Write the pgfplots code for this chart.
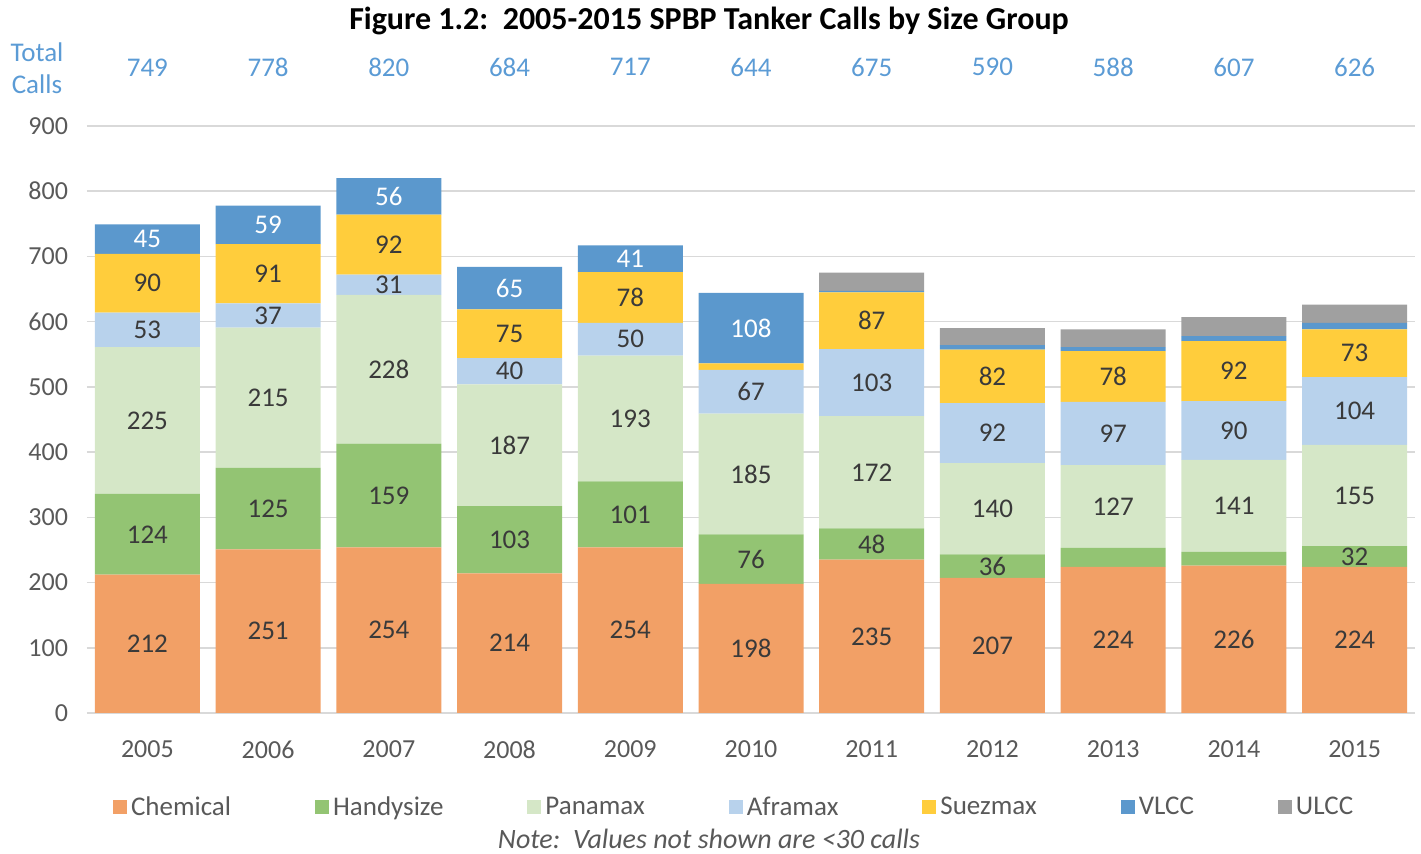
\documentclass[border=0pt]{standalone}
\usepackage{fontspec}
\setmainfont{Carlito}
\usepackage{pgfplots}
\usepackage{pgfplotstable}
\pgfplotsset{compat=1.18}

\definecolor{chem}{HTML}{F2A066}
\definecolor{handy}{HTML}{93C473}
\definecolor{pana}{HTML}{D5E7C7}
\definecolor{afra}{HTML}{B8D2EC}
\definecolor{suez}{HTML}{FFCD3C}
\definecolor{vlcc}{HTML}{5B98CD}
\definecolor{ulcc}{HTML}{A0A0A0}
\definecolor{tickgray}{HTML}{595959}
\definecolor{labgray}{HTML}{3A3A3A}
\definecolor{totblue}{HTML}{5B9BD5}

% tanker calls per size group, 2005-2015 (x = 0..10)
\pgfplotstableread{
x chem handy pana afra suez vlcc ulcc
0  212 124 225 53  90 45  0
1  251 125 215 37  91 59  0
2  254 159 228 31  92 56  0
3  214 103 187 40  75 65  0
4  254 101 193 50  78 41  0
5  198 76  185 67  10 108 0
6  235 48  172 103 87 2   28
7  207 36  140 92  82 7   26
8  224 29  127 97  78 6   27
9  226 21  141 90  92 8   29
10 224 32  155 104 73 10  28
}\calls

\pgfplotstableread{
x tot
0 749
1 778
2 820
3 684
4 717
5 644
6 675
7 590
8 588
9 607
10 626
}\totals

\begin{document}
\begin{tikzpicture}
\path[use as bounding box] (-43.5pt,-70.5pt) rectangle (667pt,356.5pt);
\begin{axis}[
  scale only axis, width=664pt, height=293.5pt,
  ybar stacked, bar width=52.5pt,
  xmin=-0.5, xmax=10.5, ymin=0, ymax=900,
  ytick={0,100,...,900},
  xtick={0,...,10},
  xticklabels={2005,2006,2007,2008,2009,2010,2011,2012,2013,2014,2015},
  axis line style={draw=none},
  major tick length=0pt,
  ymajorgrids, major grid style={draw=black!15, line width=0.8pt},
  tick label style={font=\fontsize{13}{15}\selectfont, text=tickgray},
  yticklabel style={xshift=-6pt},
  xticklabel style={yshift=-10.5pt},
  /pgf/number format/assume math mode=true,
  clip=false,
  point meta=explicit symbolic,
  nodes near coords={\ifdim\pgfplotspointmeta pt<30pt\relax\else\pgfplotspointmeta\fi},
  every node near coord/.append style={anchor=center, font=\fontsize{13.5}{15}\selectfont,
    text=labgray},
  legend columns=7,
  legend style={at={(0.488,-0.161)}, anchor=center, draw=none, fill=none,
    font=\fontsize{13.5}{15}\selectfont, text=tickgray,
    /tikz/every even column/.append style={column sep=40pt}},
  legend image code/.code={\fill[#1] (0pt,-3.5pt) rectangle (7pt,3.5pt);},
]
\addplot[fill=chem, draw=none] table[x=x, y=chem, meta=chem] {\calls};
\addlegendentry{Chemical}
\addplot[fill=handy, draw=none] table[x=x, y=handy, meta=handy] {\calls};
\addlegendentry{Handysize}
\addplot[fill=pana, draw=none] table[x=x, y=pana, meta=pana] {\calls};
\addlegendentry{Panamax}
\addplot[fill=afra, draw=none] table[x=x, y=afra, meta=afra] {\calls};
\addlegendentry{Aframax}
\addplot[fill=suez, draw=none] table[x=x, y=suez, meta=suez] {\calls};
\addlegendentry{Suezmax}
\addplot[fill=vlcc, draw=none, every node near coord/.append style={text=white}]
  table[x=x, y=vlcc, meta=vlcc] {\calls};
\addlegendentry{VLCC}
\addplot[fill=ulcc, draw=none] table[x=x, y=ulcc, meta=ulcc] {\calls};
\addlegendentry{ULCC}
\end{axis}
% total calls row above the plot
\begin{axis}[
  scale only axis, width=664pt, height=293.5pt,
  xmin=-0.5, xmax=10.5, ymin=0, ymax=900,
  hide axis, clip=false,
  point meta=explicit symbolic,
  nodes near coords, every node near coord/.append style={anchor=center,
    font=\fontsize{13.5}{15}\selectfont, text=totblue},
]
\addplot[only marks, mark=none, draw=none] table[x=x, y expr=990, meta=tot] {\totals};
\end{axis}
\node[text=totblue, font=\fontsize{13.5}{15}\selectfont, align=center, inner sep=0pt] at (-25pt,322.5pt) {Total\\[1pt]Calls};
\node[font=\bfseries\fontsize{16}{18}\selectfont, inner sep=0pt] at (311pt,346pt)
  {Figure 1.2:\ \ 2005-2015 SPBP Tanker Calls by Size Group};
\node[font=\itshape\fontsize{14}{16}\selectfont, text=tickgray, inner sep=0pt] at (311pt,-63pt)
  {Note:\ \ Values not shown are <30 calls};
\end{tikzpicture}
\end{document}
